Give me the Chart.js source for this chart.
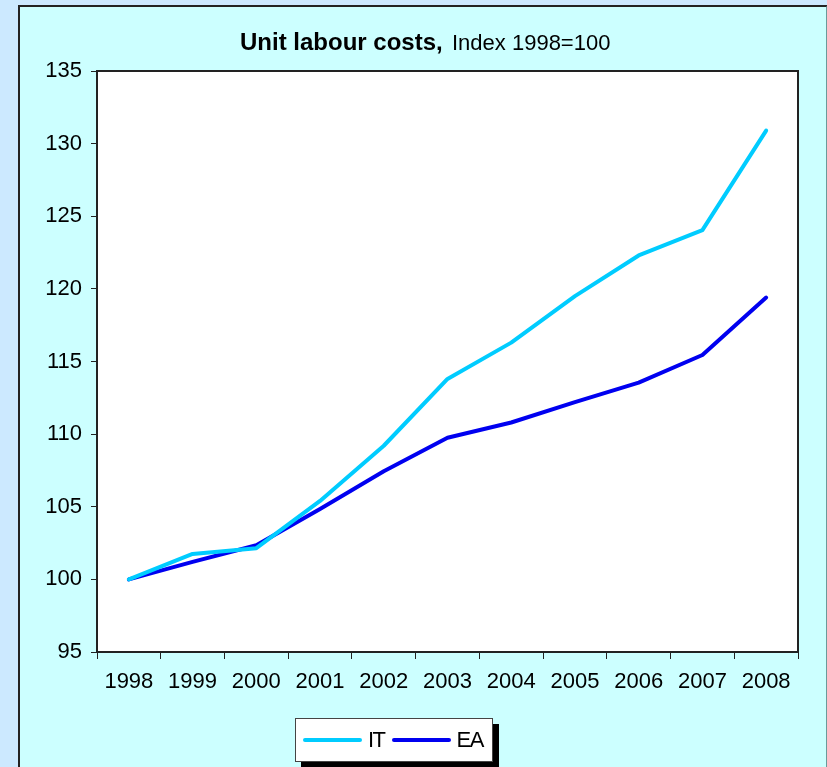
<!DOCTYPE html>
<html>
<head>
<meta charset="utf-8">
<script src="https://cdn.jsdelivr.net/npm/chart.js@4/dist/chart.umd.min.js"></script>
<style>
  html, body { margin: 0; padding: 0; background: #cce9ff; }
  #wrap { position: relative; width: 827px; height: 767px; }
  #frame { position: absolute; left: 18px; top: 5px; width: 806px; height: 780px;
           background: #ccffff; border: 2px solid #222; border-right-color: #6a9a9a; }
  canvas { position: absolute; left: 0; top: 0; }
  #legend { position: absolute; left: 295px; top: 718px; width: 196px; height: 42px;
            background: #fff; border: 1px solid #444; box-shadow: 6px 6px 0 #000;
            font-family: "Liberation Sans", Arial, sans-serif; font-size: 22px; color: #000;
            display: flex; align-items: center; }
  .item { display: flex; align-items: center; margin-left: 7px; letter-spacing: -1.5px; }
  .item span.line { display: inline-block; width: 59px; height: 4px; border-radius: 2px; margin-right: 6px; }
</style>
</head>
<body>
<div id="wrap">
  <div id="frame"></div>
  <canvas id="ulc" width="827" height="767"></canvas>
  <div id="legend"></div>
</div>
<script>
const years = ['1998', '1999', '2000', '2001', '2002', '2003', '2004', '2005', '2006', '2007', '2008'];
const itValues = [100, 101.75, 102.15, 105.4, 109.2, 113.8, 116.3, 119.5, 122.3, 124.05, 130.9];
const eaValues = [100, 101.2, 102.35, 104.85, 107.45, 109.75, 110.8, 112.2, 113.55, 115.45, 119.4];
const seriesNames = ['IT', 'EA'];
const seriesColors = ['#00ccff', '#0000f0'];

const FONT = '"Liberation Sans", Arial, sans-serif';

// white plot area, frame around it, and a title with a bold and a plain part
const decorations = {
  id: 'decorations',
  beforeDraw(chart) {
    const ctx = chart.ctx;
    const a = chart.chartArea;
    ctx.save();
    ctx.fillStyle = '#fff';
    ctx.fillRect(a.left, a.top, a.right - a.left, a.bottom - a.top);
    ctx.restore();
  },
  afterDraw(chart) {
    const ctx = chart.ctx;
    const a = chart.chartArea;
    ctx.save();
    ctx.strokeStyle = '#222';
    ctx.lineWidth = 2;
    ctx.strokeRect(a.left, a.top, a.right - a.left, a.bottom - a.top);

    ctx.fillStyle = '#000';
    ctx.textBaseline = 'alphabetic';
    ctx.textAlign = 'left';
    ctx.font = 'bold 24px ' + FONT;
    ctx.fillText('Unit labour costs,', 240, 50);
    ctx.font = '22px ' + FONT;
    ctx.fillText('Index 1998=100', 452, 50);
    ctx.restore();
  }
};

new Chart(document.getElementById('ulc'), {
  type: 'line',
  data: {
    labels: years,
    datasets: [
      { label: seriesNames[0], data: itValues, borderColor: seriesColors[0], borderWidth: 4,
        pointRadius: 0, tension: 0, borderCapStyle: 'round', borderJoinStyle: 'round' },
      { label: seriesNames[1], data: eaValues, borderColor: seriesColors[1], borderWidth: 4,
        pointRadius: 0, tension: 0, borderCapStyle: 'round', borderJoinStyle: 'round' }
    ]
  },
  options: {
    responsive: false,
    animation: false,
    layout: { padding: { top: 71, right: 29, bottom: 60, left: 0 } },
    plugins: { legend: { display: false }, title: { display: false }, tooltip: { enabled: false } },
    scales: {
      x: {
        offset: true,
        grid: { offset: true, drawOnChartArea: false, color: '#222', tickLength: 7, lineWidth: 1 },
        border: { color: '#222', width: 2 },
        ticks: { color: '#000', font: { family: FONT, size: 22 }, padding: 10, maxRotation: 0, autoSkip: false },
        afterFit(scale) { scale.height = 55; }
      },
      y: {
        min: 95, max: 135,
        ticks: { stepSize: 5, color: '#000', font: { family: FONT, size: 22 }, padding: 9 },
        grid: { drawOnChartArea: false, color: '#222', tickLength: 6 },
        border: { color: '#222', width: 2 },
        afterFit(scale) { scale.width = 97; }
      }
    }
  },
  plugins: [decorations]
});

// legend box below the chart
const legend = document.getElementById('legend');
seriesNames.forEach(function (name, i) {
  const item = document.createElement('div');
  item.className = 'item';
  item.innerHTML = '<span class="line" style="background:' + seriesColors[i] + '"></span>' + name;
  legend.appendChild(item);
});
</script>
</body>
</html>
